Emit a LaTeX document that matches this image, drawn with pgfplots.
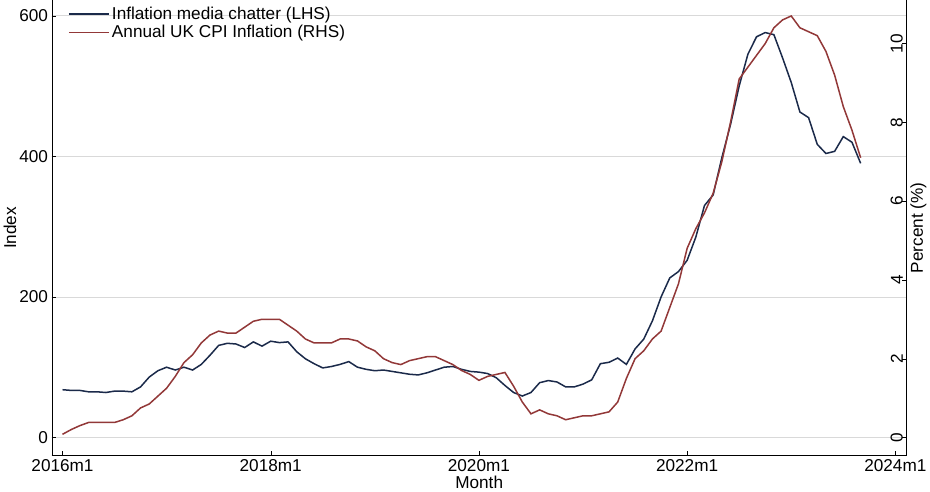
\documentclass[border=0pt]{standalone}
\usepackage{pgfplots}
\pgfplotsset{compat=1.18}
\usepackage{fontspec}
\setmainfont{Liberation Sans}
\definecolor{navy}{HTML}{1B2A4A}
\definecolor{dred}{HTML}{923838}
\begin{document}
\begin{tikzpicture}[font=\fontsize{16}{19}\selectfont]
\begin{axis}[
  scale only axis, width=796pt, height=424pt,
  xmin=-1.24, xmax=97.3, ymin=-25.7, ymax=622,
  axis y line*=left, axis x line*=bottom,
  xtick={0,24,48,72,96}, xticklabels={2016m1,2018m1,2020m1,2022m1,2024m1},
  ytick={0,200,400,600}, ymajorgrids, grid style={gray!30},
  xlabel={Month}, ylabel={Index},
  xlabel style={yshift=3pt},
  ylabel style={yshift=-4pt},
  /pgf/number format/assume math mode=true,
  legend style={draw=none, fill=none, at={(0.015,0.995)}, anchor=north west, font=\fontsize{16}{19}\selectfont},
  legend cell align=left,
  legend image post style={xscale=2.2},
  tick style={black}, axis line style={black},
]
\addplot[navy, line width=1.4pt] table {
x y
0 68
1 67
2 67
3 65
4 65
5 64
6 66
7 66
8 65
9 72
10 86
11 95
12 100
13 96
14 100
15 96
16 104
17 117
18 131
19 134
20 133
21 128
22 136
23 130
24 137
25 135
26 136
27 122
28 112
29 105
30 99
31 101
32 104
33 108
34 100
35 97
36 95
37 96
38 94
39 92
40 90
41 89
42 92
43 96
44 100
45 101
46 97
47 94
48 93
49 91
50 85
51 74
52 64
53 59
54 64
55 78
56 81
57 79
58 72
59 72
60 76
61 82
62 105
63 107
64 113
65 104
66 126
67 140
68 166
69 200
70 227
71 236
72 252
73 285
74 330
75 345
76 398
77 445
78 500
79 545
80 570
81 576
82 573
83 540
84 505
85 463
86 455
87 417
88 404
89 407
90 428
91 420
92 390
};
\addlegendentry{Inflation media chatter (LHS)}
\addlegendimage{dred, line width=1.4pt}
\addlegendentry{Annual UK CPI Inflation (RHS)}
\end{axis}
\begin{axis}[
  scale only axis, width=796pt, height=424pt,
  xmin=-1.24, xmax=97.3, ymin=-0.46, ymax=11.1,
  axis y line*=right, axis x line=none,
  ytick={0,2,4,6,8,10}, ylabel={Percent (\%)},
  yticklabel style={rotate=90, anchor=south},
  ylabel style={rotate=0},
  /pgf/number format/assume math mode=true,
  tick style={black}, axis line style={black},
]
\addplot[dred, line width=1.4pt] table {
x y
0 0.08
1 0.2
2 0.3
3 0.38
4 0.38
5 0.38
6 0.38
7 0.45
8 0.55
9 0.75
10 0.85
11 1.05
12 1.25
13 1.55
14 1.9
15 2.1
16 2.4
17 2.6
18 2.7
19 2.65
20 2.65
21 2.8
22 2.95
23 3.0
24 3.0
25 3.0
26 2.85
27 2.7
28 2.5
29 2.4
30 2.4
31 2.4
32 2.5
33 2.5
34 2.45
35 2.3
36 2.2
37 2.0
38 1.9
39 1.85
40 1.95
41 2.0
42 2.05
43 2.05
44 1.95
45 1.85
46 1.7
47 1.6
48 1.45
49 1.55
50 1.6
51 1.65
52 1.3
53 0.9
54 0.6
55 0.7
56 0.6
57 0.55
58 0.45
59 0.5
60 0.55
61 0.55
62 0.6
63 0.65
64 0.9
65 1.5
66 2.0
67 2.2
68 2.5
69 2.7
70 3.3
71 3.9
72 4.8
73 5.3
74 5.7
75 6.2
76 7.0
77 8.0
78 9.1
79 9.4
80 9.7
81 10.0
82 10.4
83 10.6
84 10.7
85 10.4
86 10.3
87 10.2
88 9.8
89 9.2
90 8.4
91 7.8
92 7.1
};
\end{axis}
\end{tikzpicture}
\end{document}
